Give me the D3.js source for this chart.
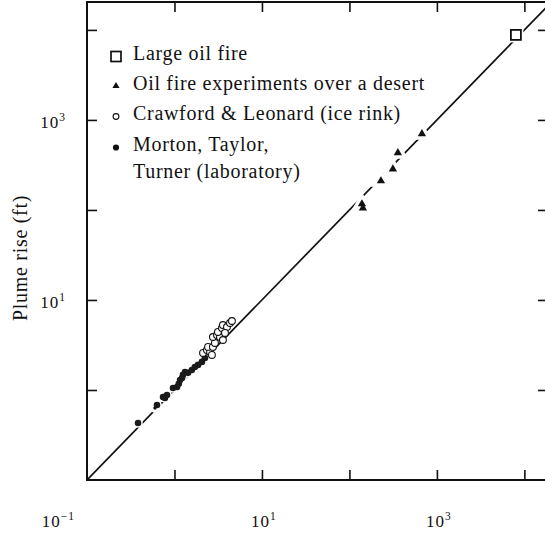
<!DOCTYPE html>
<html><head><meta charset="utf-8">
<script src="https://cdn.jsdelivr.net/npm/d3@7"></script>
<style>
html,body{margin:0;padding:0;background:#fff;}
svg{display:block;}
text{font-family:"Liberation Serif","Times New Roman",serif;fill:#111;}
</style></head>
<body>
<script>
// ---- data ----
const largeFire = [[8000, 8800]];
const desertFires = [[142.6, 105], [139, 116.6], [229, 210], [314, 285], [358, 430], [674, 699]];
const iceRink = [[2.12,2.58],[2.35,2.78],[2.55,2.64],[2.68,2.45],[2.42,3.01],[2.75,3.01],[2.90,3.33],
  [2.75,3.88],[3.06,4.08],[3.31,3.88],[3.14,4.41],[3.49,4.88],[3.58,5.27],[3.98,5.01],[3.78,4.30],
  [4.31,5.55],[4.54,5.84],[3.58,3.59]];
const laboratory = [[0.383,0.430],[0.631,0.681],[0.740,0.836],[0.821,0.880],[0.778,0.815],[0.962,1.05],
  [1.07,1.08],[1.16,1.29],[1.25,1.47],[1.32,1.58],[1.43,1.55],[1.58,1.67],[1.71,1.80],[1.86,1.90],
  [2.06,2.05],[2.23,2.27],[1.12,1.17],[1.22,1.36]];
const laboratorySmall = [[0.598,0.631]];
const fitLine = [[0.1, 0.1], [18620, 18620]];
const xTicks = [1, 10, 100, 1000, 10000];
const yTicks = [1, 10, 100, 1000, 10000];
const xLabels = [[0.1, "-1"], [10, "1"], [1000, "3"]];
const yLabels = [[10, "1"], [1000, "3"]];
const yTitle = "Plume rise (ft)";
const legendItems = [
  {sym: "square", lines: ["Large oil fire"]},
  {sym: "triangle", lines: ["Oil fire experiments over a desert"]},
  {sym: "open", lines: ["Crawford & Leonard (ice rink)"]},
  {sym: "filled", lines: ["Morton, Taylor,", "Turner (laboratory)"]}
];

// ---- chart ----
const W = 545, H = 535;
const svg = d3.select("body").append("svg").attr("width", W).attr("height", H);
const x = d3.scaleLog().domain([0.1, Math.pow(10, 4.27)]).range([87, 548]);
const y = d3.scaleLog().domain([0.1, Math.pow(10, 4.31)]).range([480, 2]);
const [x0, x1] = x.range(), [y0, y1] = y.range();

svg.append("clipPath").attr("id", "clip").append("rect")
  .attr("x", x0).attr("y", y1).attr("width", x1 - x0).attr("height", y0 - y1);

// axes ticks
function styleAxis(g){ g.select(".domain").remove(); g.selectAll("line").attr("stroke", "#111").attr("stroke-width", 1.6); g.selectAll("text").remove(); }
svg.append("g").attr("transform", `translate(0,${y0})`).call(d3.axisBottom(x).tickValues(xTicks).tickSize(-10)).call(styleAxis);
svg.append("g").attr("transform", `translate(0,${y1})`).call(d3.axisTop(x).tickValues(xTicks).tickSize(-10)).call(styleAxis);
svg.append("g").attr("transform", `translate(${x0},0)`).call(d3.axisLeft(y).tickValues(yTicks).tickSize(-10)).call(styleAxis);
svg.append("g").attr("transform", `translate(${x1},0)`).call(d3.axisRight(y).tickValues(yTicks).tickSize(-10)).call(styleAxis);

// frame
svg.append("rect").attr("x", x0).attr("y", y1).attr("width", x1 - x0).attr("height", y0 - y1)
  .attr("fill", "none").attr("stroke", "#111").attr("stroke-width", 2);

// fit line
const plot = svg.append("g").attr("clip-path", "url(#clip)");
plot.append("path").datum(fitLine)
  .attr("d", d3.line().x(d => x(d[0])).y(d => y(d[1])))
  .attr("fill", "none").attr("stroke", "#111").attr("stroke-width", 1.7);

// markers
const tri = d3.symbol(d3.symbolTriangle, 30)();
// white halos (create the line gaps)
plot.selectAll(".halo-t").data(desertFires).join("path")
  .attr("d", tri).attr("transform", d => `translate(${x(d[0])},${y(d[1])})`)
  .attr("fill", "#fff").attr("stroke", "#fff").attr("stroke-width", 7);
plot.selectAll(".halo-s").data(largeFire).join("rect")
  .attr("x", d => x(d[0]) - 7.5).attr("y", d => y(d[1]) - 7.5).attr("width", 15).attr("height", 15)
  .attr("fill", "#fff");
plot.selectAll(".halo-f").data(laboratory.concat(laboratorySmall)).join("circle")
  .attr("cx", d => x(d[0])).attr("cy", d => y(d[1])).attr("r", 4.8).attr("fill", "#fff");

plot.selectAll(".tri").data(desertFires).join("path")
  .attr("d", tri).attr("transform", d => `translate(${x(d[0])},${y(d[1])})`)
  .attr("fill", "#111");
plot.selectAll(".sq").data(largeFire).join("rect")
  .attr("x", d => x(d[0]) - 5).attr("y", d => y(d[1]) - 5).attr("width", 10).attr("height", 10)
  .attr("fill", "#fff").attr("stroke", "#111").attr("stroke-width", 1.8);
plot.selectAll(".fc").data(laboratory).join("circle")
  .attr("cx", d => x(d[0])).attr("cy", d => y(d[1])).attr("r", 3.3).attr("fill", "#1a1a1a");
plot.selectAll(".fcs").data(laboratorySmall).join("circle")
  .attr("cx", d => x(d[0])).attr("cy", d => y(d[1])).attr("r", 1.7).attr("fill", "#1a1a1a");
plot.selectAll(".oc").data(iceRink).join("circle")
  .attr("cx", d => x(d[0])).attr("cy", d => y(d[1])).attr("r", 3.4)
  .attr("fill", "#fff").attr("stroke", "#111").attr("stroke-width", 1.1);

// tick labels
const tickFont = 17;
xLabels.forEach(([v, e], i) => {
  const t = svg.append("text").attr("y", 527).attr("font-size", tickFont).attr("letter-spacing", 1);
  if (i === 0) t.attr("x", x(v) - 12).attr("text-anchor", "end");
  else t.attr("x", x(v) + 2).attr("text-anchor", "middle");
  t.append("tspan").text("10");
  t.append("tspan").attr("dy", -7).attr("font-size", 11.5).text(e === "-1" ? "\u22121" : e);
});
yLabels.forEach(([v, e]) => {
  const t = svg.append("text").attr("x", x0 - 21).attr("y", y(v) + 8)
    .attr("font-size", tickFont).attr("letter-spacing", 1).attr("text-anchor", "end");
  t.append("tspan").text("10");
  t.append("tspan").attr("dy", -7).attr("font-size", 11.5).text(e);
});

// y title
svg.append("text").attr("transform", "translate(27,258) rotate(-90)")
  .attr("text-anchor", "middle").attr("font-size", 20).attr("letter-spacing", 0.7).text(yTitle);

// legend
const legend = svg.append("g");
const baselines = [60, 90, 120, 151];
legendItems.forEach((it, i) => {
  const by = baselines[i], cx = 116, cy = by - 3.5;
  if (it.sym === "square") legend.append("rect").attr("x", cx - 5).attr("y", cy - 5).attr("width", 10).attr("height", 10)
    .attr("fill", "#fff").attr("stroke", "#111").attr("stroke-width", 1.7);
  if (it.sym === "triangle") legend.append("path").attr("d", d3.symbol(d3.symbolTriangle, 22)()).attr("transform", `translate(${cx},${cy - 0.5})`).attr("fill", "#111");
  if (it.sym === "open") legend.append("circle").attr("cx", cx).attr("cy", cy).attr("r", 2.9).attr("fill", "#fff").attr("stroke", "#111").attr("stroke-width", 1.1);
  if (it.sym === "filled") legend.append("circle").attr("cx", cx).attr("cy", cy).attr("r", 3.1).attr("fill", "#111");
  it.lines.forEach((ln, j) => {
    legend.append("text").attr("x", 133).attr("y", by + j * 27).attr("font-size", 20).attr("letter-spacing", 0.7).text(ln);
  });
});
</script>
</body></html>
